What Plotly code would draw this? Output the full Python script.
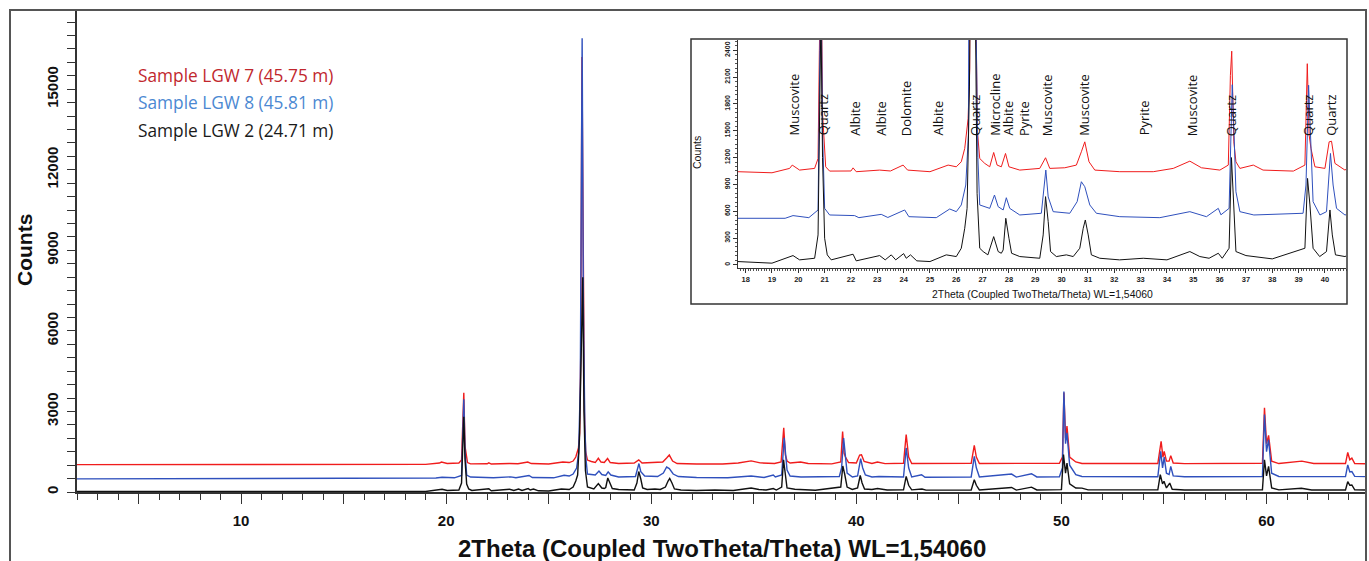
import plotly.graph_objects as go

# ---------------- data ----------------
RED_X = [2.0, 5.0, 8.0, 12.0, 15.0, 17.7, 19.0, 19.67, 19.77, 20.05, 20.62, 20.75, 20.80, 20.86, 20.92, 21.04, 21.19,
         22.0, 22.08, 22.2, 23.09, 23.5, 23.98, 24.15, 25.0, 25.69, 26.0, 26.19, 26.32, 26.45, 26.51, 26.56, 26.62,
         26.68, 26.74, 26.80, 26.89, 27.08, 27.27, 27.42, 27.55, 27.71, 27.87, 28.0, 28.41, 29.17, 29.39, 29.55,
         30.12, 30.56, 30.75, 30.88, 31.04, 31.26, 32.21, 33.48, 34.24, 34.87, 35.31, 36.01, 36.33, 36.41, 36.46,
         36.54, 36.62, 36.77, 37.28, 37.65, 38.8, 39.24, 39.33, 39.40, 39.47, 39.62, 40.0, 40.16, 40.25, 40.38,
         40.76, 41.03, 41.4, 42.3, 42.43, 42.55, 42.7, 45.6, 45.75, 45.85, 46.0, 49.9, 50.05, 50.12, 50.2, 50.27,
         50.4, 50.7, 51.0, 54.7, 54.86, 54.95, 55.01, 55.12, 55.25, 55.33, 55.45, 56.0, 59.8, 59.9, 60.0, 60.1,
         60.25, 60.6, 61.72, 62.3, 63.85, 63.96, 64.06, 64.16, 64.3, 64.85]
RED_Y = [1020, 1025, 1030, 1035, 1040, 1042, 1030, 1079, 1116, 1060, 1079, 1190, 2400, 3700, 1700, 1097, 1049,
         1050, 1085, 1042, 1060, 1050, 1116, 1060, 1042, 1116, 1097, 1153, 1302, 1637, 2195, 5000, 16200,
         9000, 3000, 1500, 1190, 1135, 1097, 1257, 1116, 1097, 1246, 1097, 1060, 1079, 1198, 1079,
         1086, 1116, 1265, 1376, 1153, 1060, 1042, 1042, 1079, 1160, 1086, 1060, 1116, 2120, 2390,
         1376, 1153, 1079, 1116, 1060, 1049, 1116, 2250, 1450, 1302, 1097, 1079, 1376, 1383, 1135,
         1060, 1117, 1055, 1070, 2140, 1300, 1060, 1065, 1741, 1300, 1060, 1070, 1300, 3700, 2000, 2452,
         1300, 1120, 1060, 1060, 1890, 1300, 1516, 1150, 1150, 1354, 1080, 1055, 1070, 3132, 1800, 2109,
         1150, 1060, 1148, 1060, 1060, 1473, 1200, 1260, 1060, 1050]

BLUE_X = [2.0, 6.0, 10.0, 14.0, 17.7, 19.5, 19.8, 20.4, 20.75, 20.80, 20.86, 20.92, 21.0, 21.19, 22.14, 22.3, 23.15,
          23.4, 24.04, 24.2, 25.24, 25.75, 26.0, 26.19, 26.36, 26.46, 26.54, 26.63, 26.69, 26.76, 26.82, 26.89,
          27.27, 27.45, 27.59, 27.78, 27.9, 28.03, 28.41, 29.23, 29.4, 29.49, 29.68, 30.31, 30.59, 30.75, 30.88,
          31.07, 31.32, 32.21, 33.73, 34.87, 35.5, 35.95, 36.05, 36.36, 36.48, 36.55, 36.62, 36.77, 37.3, 39.17,
          39.28, 39.38, 39.47, 39.55, 39.81, 40.06, 40.21, 40.31, 40.44, 40.76, 41.1, 42.3, 42.43, 42.55, 42.7,
          43.18, 43.35, 45.6, 45.75, 45.85, 46.0, 47.57, 47.8, 48.54, 48.8, 49.9, 50.05, 50.12, 50.2, 50.27, 50.4,
          50.7, 51.0, 54.7, 54.84, 54.93, 55.01, 55.12, 55.25, 55.33, 55.45, 56.0, 59.8, 59.9, 60.0, 60.1, 60.25,
          60.6, 63.85, 63.96, 64.06, 64.16, 64.3, 64.85]
BLUE_Y = [490, 495, 500, 510, 521, 521, 551, 528, 614, 2000, 3450, 1500, 632, 558, 551, 528, 565,
          530, 614, 539, 528, 625, 595, 670, 893, 1451, 4000, 16900, 7000, 2500, 1200, 670,
          632, 781, 651, 614, 751, 632, 558, 577, 1060, 760, 595, 577, 707, 930, 874,
          670, 577, 539, 528, 595, 539, 632, 560, 632, 2015, 1451, 818, 595, 558, 577,
          893, 2009, 1302, 707, 558, 595, 1246, 893, 632, 558, 580, 560, 1641, 900, 560,
          642, 550, 560, 1329, 900, 560, 668, 555, 680, 560, 570, 900, 3740, 1800, 2203, 1000,
          650, 580, 570, 1516, 900, 1300, 700, 650, 955, 600, 570, 574, 2883, 1500, 1947, 700,
          580, 574, 1011, 750, 761, 580, 574]

BLACK_X = [2.0, 6.0, 10.0, 14.0, 17.7, 19.0, 19.8, 20.05, 20.62, 20.75, 20.80, 20.86, 20.92, 21.0, 21.1, 21.25,
           22.08, 22.2, 23.09, 23.3, 23.53, 23.7, 24.0, 24.1, 24.26, 24.5, 25.0, 25.62, 26.0, 26.19, 26.32, 26.41,
           26.5, 26.58, 26.66, 26.72, 26.79, 26.89, 27.02, 27.2, 27.42, 27.59, 27.71, 27.78, 27.88, 28.0, 28.1,
           28.41, 29.17, 29.3, 29.39, 29.49, 29.58, 29.8, 30.18, 30.44, 30.69, 30.82, 30.9, 31.01, 31.13, 31.45,
           32.2, 33.1, 34.0, 34.87, 35.25, 35.6, 35.95, 36.1, 36.36, 36.45, 36.55, 36.62, 37.0, 38.0, 39.24, 39.34,
           39.43, 39.55, 39.8, 40.06, 40.19, 40.28, 40.4, 40.76, 41.03, 41.5, 42.3, 42.43, 42.55, 42.7, 43.2, 43.4,
           45.6, 45.75, 45.85, 46.0, 47.57, 47.8, 48.54, 48.8, 50.0, 50.1, 50.2, 50.27, 50.4, 50.7, 51.0, 51.3,
           54.7, 54.82, 54.93, 55.0, 55.12, 55.28, 55.4, 56.0, 59.8, 59.9, 60.0, 60.1, 60.25, 60.6, 61.7, 62.2,
           63.85, 63.96, 64.06, 64.16, 64.3, 64.85]
BLACK_Y = [20, 25, 30, 35, 37, 19, 104, 56, 74, 335, 1500, 2800, 1200, 298, 112, 56,
           119, 45, 104, 56, 112, 56, 126, 74, 112, 45, 37, 112, 93, 186, 409, 632,
           2000, 5000, 8000, 3000, 800, 186, 149, 112, 316, 149, 130, 167, 521, 298, 130,
           93, 74, 335, 763, 484, 149, 93, 112, 93, 186, 409, 502, 335, 112, 74,
           56, 74, 56, 149, 93, 74, 130, 74, 186, 1200, 670, 149, 104, 67, 186, 967,
           670, 186, 93, 149, 614, 335, 112, 93, 130, 75, 80, 580, 250, 80, 110, 70,
           75, 455, 250, 75, 168, 70, 181, 75, 90, 1391, 700, 1080, 300, 150, 143, 80,
           80, 643, 300, 400, 150, 331, 100, 75, 80, 1200, 600, 955, 150, 80, 137, 75,
           75, 387, 250, 262, 80, 75]

SERIES_NAMES = ["Sample LGW 7 (45.75 m)", "Sample LGW 8 (45.81 m)", "Sample LGW 2 (24.71 m)"]

PHASE_LABELS = ["Muscovite", "Quartz", "Albite", "Albite", "Dolomite", "Albite", "Quartz", "Microcline", "Albite",
                "Pyrite", "Muscovite", "Muscovite", "Pyrite", "Muscovite", "Quartz", "Quartz", "Quartz"]
PHASE_POS = [19.82, 20.94, 22.17, 23.16, 24.07, 25.31, 26.74, 27.47, 27.97,
             28.6, 29.42, 30.85, 33.13, 34.93, 36.43, 39.38, 40.25]

MAIN_XTICKS = [5, 10, 15, 20, 25, 30, 35, 40, 45, 50, 55, 60]
MAIN_YTICKS = [0, 3000, 6000, 9000, 12000, 15000]
INSET_YTICKS = [0, 300, 600, 900, 1200, 1500, 1800, 2100, 2400]

# ---------------- styles ----------------
LINE_RED = "#f01c1c"
LINE_BLUE = "#2f50bd"
LINE_BLACK = "#111111"
TXT_RED = "#c1272d"
TXT_BLUE = "#4b88d2"
TXT_BLACK = "#1a1a1a"
AXIS = "#333333"
SANS = "Liberation Sans, Arial, sans-serif"

W, H = 1369, 561
L, R, T, B = 77, 3, 10, 69
PW, PH = W - L - R, H - T - B


def px(x):
    return (x - L) / PW


def py(y):
    return (H - B - y) / PH


fig = go.Figure()
series = [(RED_X, RED_Y, LINE_RED, SERIES_NAMES[0]),
          (BLUE_X, BLUE_Y, LINE_BLUE, SERIES_NAMES[1]),
          (BLACK_X, BLACK_Y, LINE_BLACK, SERIES_NAMES[2])]
for xs, ys, c, n in series:
    fig.add_trace(go.Scatter(x=xs, y=ys, mode="lines", line=dict(color=c, width=1.4), name=n,
                             showlegend=False, xaxis="x", yaxis="y"))
for xs, ys, c, n in series:
    fig.add_trace(go.Scatter(x=xs, y=ys, mode="lines", line=dict(color=c, width=1.0), name=n,
                             showlegend=False, xaxis="x2", yaxis="y2", cliponaxis=True))

tick_font = dict(family=SANS, size=15, color="#111", weight=700)
main_xtext = [str(v) if v % 10 == 0 else "" for v in MAIN_XTICKS]

fig.update_layout(
    width=W, height=H, margin=dict(l=L, r=R, t=T, b=B),
    paper_bgcolor="white", plot_bgcolor="white", showlegend=False,
    xaxis=dict(domain=[0, 1], range=[2, 64.85], showgrid=False, zeroline=False, showline=True,
               linecolor=AXIS, linewidth=1.5, ticks="outside", ticklen=10, tickwidth=1.3, tickcolor=AXIS,
               tickvals=MAIN_XTICKS, ticktext=main_xtext, tickfont=tick_font,
               ticklabelstandoff=4,
               minor=dict(dtick=1, tick0=0, ticks="outside", ticklen=6, tickwidth=1.2, tickcolor=AXIS)),
    yaxis=dict(domain=[0, 1], range=[0, 17950], showgrid=False, zeroline=False, showline=True,
               linecolor=AXIS, linewidth=1.5, ticks="outside", ticklen=8, tickwidth=1.3, tickcolor=AXIS,
               tickvals=MAIN_YTICKS, ticktext=[str(v) for v in MAIN_YTICKS], tickangle=-90,
               tickfont=tick_font, ticklabelstandoff=3,
               minor=dict(dtick=500, tick0=0, ticks="outside", ticklen=8, tickwidth=1.2, tickcolor=AXIS)),
    xaxis2=dict(domain=[px(738), px(1346)], anchor="y2", range=[17.71, 40.8], showgrid=False,
                zeroline=False, showline=True, linecolor=AXIS, linewidth=1, ticks="outside", ticklen=4,
                tickwidth=1, tickcolor=AXIS, dtick=1, tick0=0,
                tickfont=dict(family=SANS, size=7.5, color="#222", weight=700),
                minor=dict(dtick=0.1, tick0=0, ticks="outside", ticklen=2, tickwidth=0.7, tickcolor="#555")),
    yaxis2=dict(domain=[py(268), py(40)], anchor="x2", range=[-35, 2515], showgrid=False,
                zeroline=False, showline=True, linecolor=AXIS, linewidth=1, ticks="outside", ticklen=4,
                tickwidth=1, tickcolor=AXIS, tickvals=INSET_YTICKS, ticktext=[str(v) for v in INSET_YTICKS],
                tickangle=-90, tickfont=dict(family=SANS, size=7, color="#222", weight=700),
                minor=dict(dtick=50, tick0=0, ticks="outside", ticklen=2, tickwidth=0.7, tickcolor="#555")),
)

shapes = [
    # outer frame
    dict(type="rect", xref="paper", yref="paper", x0=px(10), x1=px(1366), y0=py(600), y1=py(10),
         line=dict(color="#555", width=2), fillcolor="rgba(0,0,0,0)", layer="above"),
    # inset frame
    dict(type="rect", xref="paper", yref="paper", x0=px(691), x1=px(1347), y0=py(304), y1=py(39),
         line=dict(color="#333", width=1.5), fillcolor="rgba(0,0,0,0)", layer="above"),
]
fig.update_layout(shapes=shapes)

ann = []
legend_font = "Open Sans, Lato, sans-serif"
for name, col, yy in zip(SERIES_NAMES, [TXT_RED, TXT_BLUE, TXT_BLACK], [76, 103, 130]):
    ann.append(dict(xref="paper", yref="paper", x=px(136), y=py(yy), xanchor="left", yanchor="middle",
                    text=name, showarrow=False, font=dict(family=legend_font, size=17.3, color=col)))
ann.append(dict(xref="paper", yref="paper", x=px(24), y=py(250), text="Counts", textangle=-90,
                showarrow=False, xanchor="center", yanchor="middle",
                font=dict(family=SANS, size=21, color="#111", weight=700)))
ann.append(dict(xref="paper", yref="paper", x=px(722), y=py(548),
                text="2Theta (Coupled TwoTheta/Theta) WL=1,54060", showarrow=False,
                xanchor="center", yanchor="middle",
                font=dict(family=SANS, size=24, color="#111", weight=700)))
ann.append(dict(xref="paper", yref="paper", x=px(697), y=py(153), text="Counts", textangle=-90,
                showarrow=False, xanchor="center", yanchor="middle",
                font=dict(family=SANS, size=10.5, color="#111")))
ann.append(dict(xref="paper", yref="paper", x=px(1042), y=py(294),
                text="2Theta (Coupled TwoTheta/Theta) WL=1,54060", showarrow=False,
                xanchor="center", yanchor="middle",
                font=dict(family=SANS, size=10.4, color="#111")))
for lab, pos in zip(PHASE_LABELS, PHASE_POS):
    ann.append(dict(xref="x2", yref="y2", x=pos, y=1421, text=lab, textangle=-90, showarrow=False,
                    xanchor="center", yanchor="bottom",
                    font=dict(family="Open Sans, sans-serif", size=13, color="#111")))
fig.update_layout(annotations=ann)

fig.write_html("out.html")
